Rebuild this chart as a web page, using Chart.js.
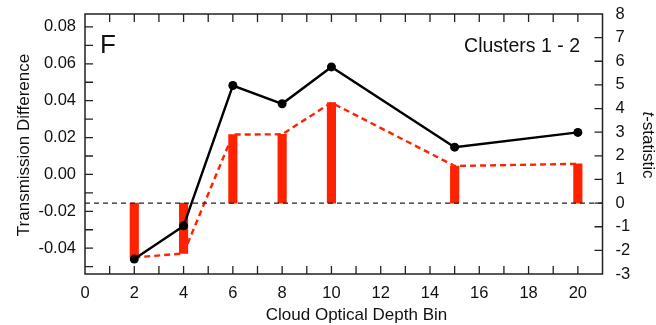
<!DOCTYPE html>
<html><head><meta charset="utf-8">
<script src="https://cdn.jsdelivr.net/npm/chart.js@4"></script>
<style>html,body{margin:0;padding:0;background:#fff;} canvas{display:block;}</style>
</head><body>
<canvas id="c" width="656" height="325"></canvas>
<script>
// ---- data ----
const bins = [2, 4, 6, 8, 10, 15, 20];
const transDiff = [-0.0459, -0.0279, 0.0482, 0.0383, 0.0583, 0.0148, 0.0228];
const tStat = [-2.30, -2.13, 2.90, 2.91, 4.25, 1.57, 1.66];
const zeroLineX = [0, 21];
const xRange = [0, 21];
const leftRange = [-0.054, 0.087];
const rightRange = [-3, 8];
const panelLabel = 'F';
const panelNote = 'Clusters 1 - 2';
const xTitle = 'Cloud Optical Depth Bin';
const yTitle = 'Transmission Difference';
const y2TitleItalic = 't';
const y2TitleRest = '-statistic';

const FONT = "'Liberation Sans', Arial, Helvetica, sans-serif";
const RED = '#ff2200';
const INK = '#111';
Chart.defaults.color = INK;
Chart.defaults.font.family = FONT;

const pts = (xs, ys) => xs.map((x, i) => ({x: x, y: ys[i]}));

const decor = {
  id: 'decor',
  afterDraw(chart) {
    const {ctx, chartArea: a, scales} = chart;
    ctx.save();
    ctx.strokeStyle = '#222';
    ctx.lineWidth = 1.5;
    ctx.strokeRect(a.left, a.top, a.right - a.left, a.bottom - a.top);
    ctx.lineWidth = 1.3;
    const L = 8;
    ctx.beginPath();
    for (let v = xRange[0] + 1; v < xRange[1]; v++) {
      const px = scales.x.getPixelForValue(v);
      ctx.moveTo(px, a.bottom); ctx.lineTo(px, a.bottom - L);
      ctx.moveTo(px, a.top); ctx.lineTo(px, a.top + L);
    }
    for (let k = -5; k <= 8; k++) {
      const py = scales.y.getPixelForValue(k / 100);
      ctx.moveTo(a.left, py); ctx.lineTo(a.left + L, py);
    }
    for (let v = rightRange[0] + 1; v < rightRange[1]; v++) {
      const py = scales.y2.getPixelForValue(v);
      ctx.moveTo(a.right, py); ctx.lineTo(a.right - L, py);
    }
    ctx.stroke();

    ctx.fillStyle = INK;
    ctx.textAlign = 'left'; ctx.textBaseline = 'alphabetic';
    ctx.font = '26px ' + FONT;
    ctx.fillText(panelLabel, 100, 52.5);
    ctx.textAlign = 'right';
    ctx.font = '19.5px ' + FONT;
    ctx.fillText(panelNote, 580, 52);
    ctx.textAlign = 'center';
    ctx.font = '17px ' + FONT;
    ctx.fillText(xTitle, 356.5, 319.5);
    ctx.save();
    ctx.translate(28.5, 145);
    ctx.rotate(-Math.PI / 2);
    ctx.fillText(yTitle, 0, 0);
    ctx.restore();
    ctx.save();
    ctx.translate(643, 145);
    ctx.rotate(Math.PI / 2);
    ctx.textAlign = 'left';
    ctx.font = 'italic 17px ' + FONT;
    const w1 = ctx.measureText(y2TitleItalic).width;
    ctx.font = '17px ' + FONT;
    const w2 = ctx.measureText(y2TitleRest).width;
    const start = -(w1 + w2) / 2;
    ctx.font = 'italic 17px ' + FONT;
    ctx.fillText(y2TitleItalic, start, 0);
    ctx.font = '17px ' + FONT;
    ctx.fillText(y2TitleRest, start + w1, 0);
    ctx.restore();
    ctx.restore();
  }
};

const noPad = s => { s.paddingTop = 0; s.paddingBottom = 0; s.paddingLeft = 0; s.paddingRight = 0; };

new Chart(document.getElementById('c'), {
  type: 'line',
  data: {
    datasets: [
      {
        type: 'line', label: 'Transmission difference', data: pts(bins, transDiff),
        yAxisID: 'y', borderColor: '#000', backgroundColor: '#000', borderWidth: 2.4,
        pointRadius: 4.5, pointBackgroundColor: '#000', pointBorderWidth: 0, tension: 0, order: 1
      },
      {
        type: 'line', label: 'zero', data: pts(zeroLineX, [0, 0]),
        yAxisID: 'y2', borderColor: '#222', borderWidth: 1.2, borderDash: [5, 4],
        pointRadius: 0, order: 2
      },
      {
        type: 'line', label: 't-statistic line', data: pts(bins, tStat),
        yAxisID: 'y2', borderColor: RED, borderWidth: 2.4, borderDash: [6, 4],
        pointRadius: 0, tension: 0, order: 3
      },
      {
        type: 'bar', label: 't-statistic', data: pts(bins, tStat),
        yAxisID: 'y2', backgroundColor: RED, borderWidth: 0, barThickness: 8.5, order: 4
      }
    ]
  },
  options: {
    responsive: false,
    animation: false,
    devicePixelRatio: 1,
    layout: {padding: {top: 14, left: 0, right: 0, bottom: 0}},
    plugins: {legend: {display: false}, tooltip: {enabled: false}},
    scales: {
      x: {
        type: 'linear', position: 'bottom', min: xRange[0], max: xRange[1], offset: false,
        grid: {display: false, drawTicks: false, offset: false}, border: {display: false},
        ticks: {stepSize: 2, includeBounds: false, padding: 9.5, font: {size: 16.5}, maxRotation: 0,
          callback: v => String(v)},
        afterFit: s => { s.height = 51; noPad(s); }
      },
      y: {
        type: 'linear', position: 'left', min: leftRange[0], max: leftRange[1],
        grid: {display: false, drawTicks: false}, border: {display: false},
        ticks: {stepSize: 0.02, includeBounds: false, padding: 9, font: {size: 16.5},
          callback: v => Number(v).toFixed(2)},
        afterFit: s => { s.width = 85; noPad(s); }
      },
      y2: {
        type: 'linear', position: 'right', min: rightRange[0], max: rightRange[1],
        grid: {display: false, drawTicks: false}, border: {display: false},
        ticks: {stepSize: 1, padding: 13, font: {size: 16.5}, callback: v => String(v)},
        afterFit: s => { s.width = 53.5; noPad(s); }
      }
    }
  },
  plugins: [decor]
});
</script>
</body></html>
